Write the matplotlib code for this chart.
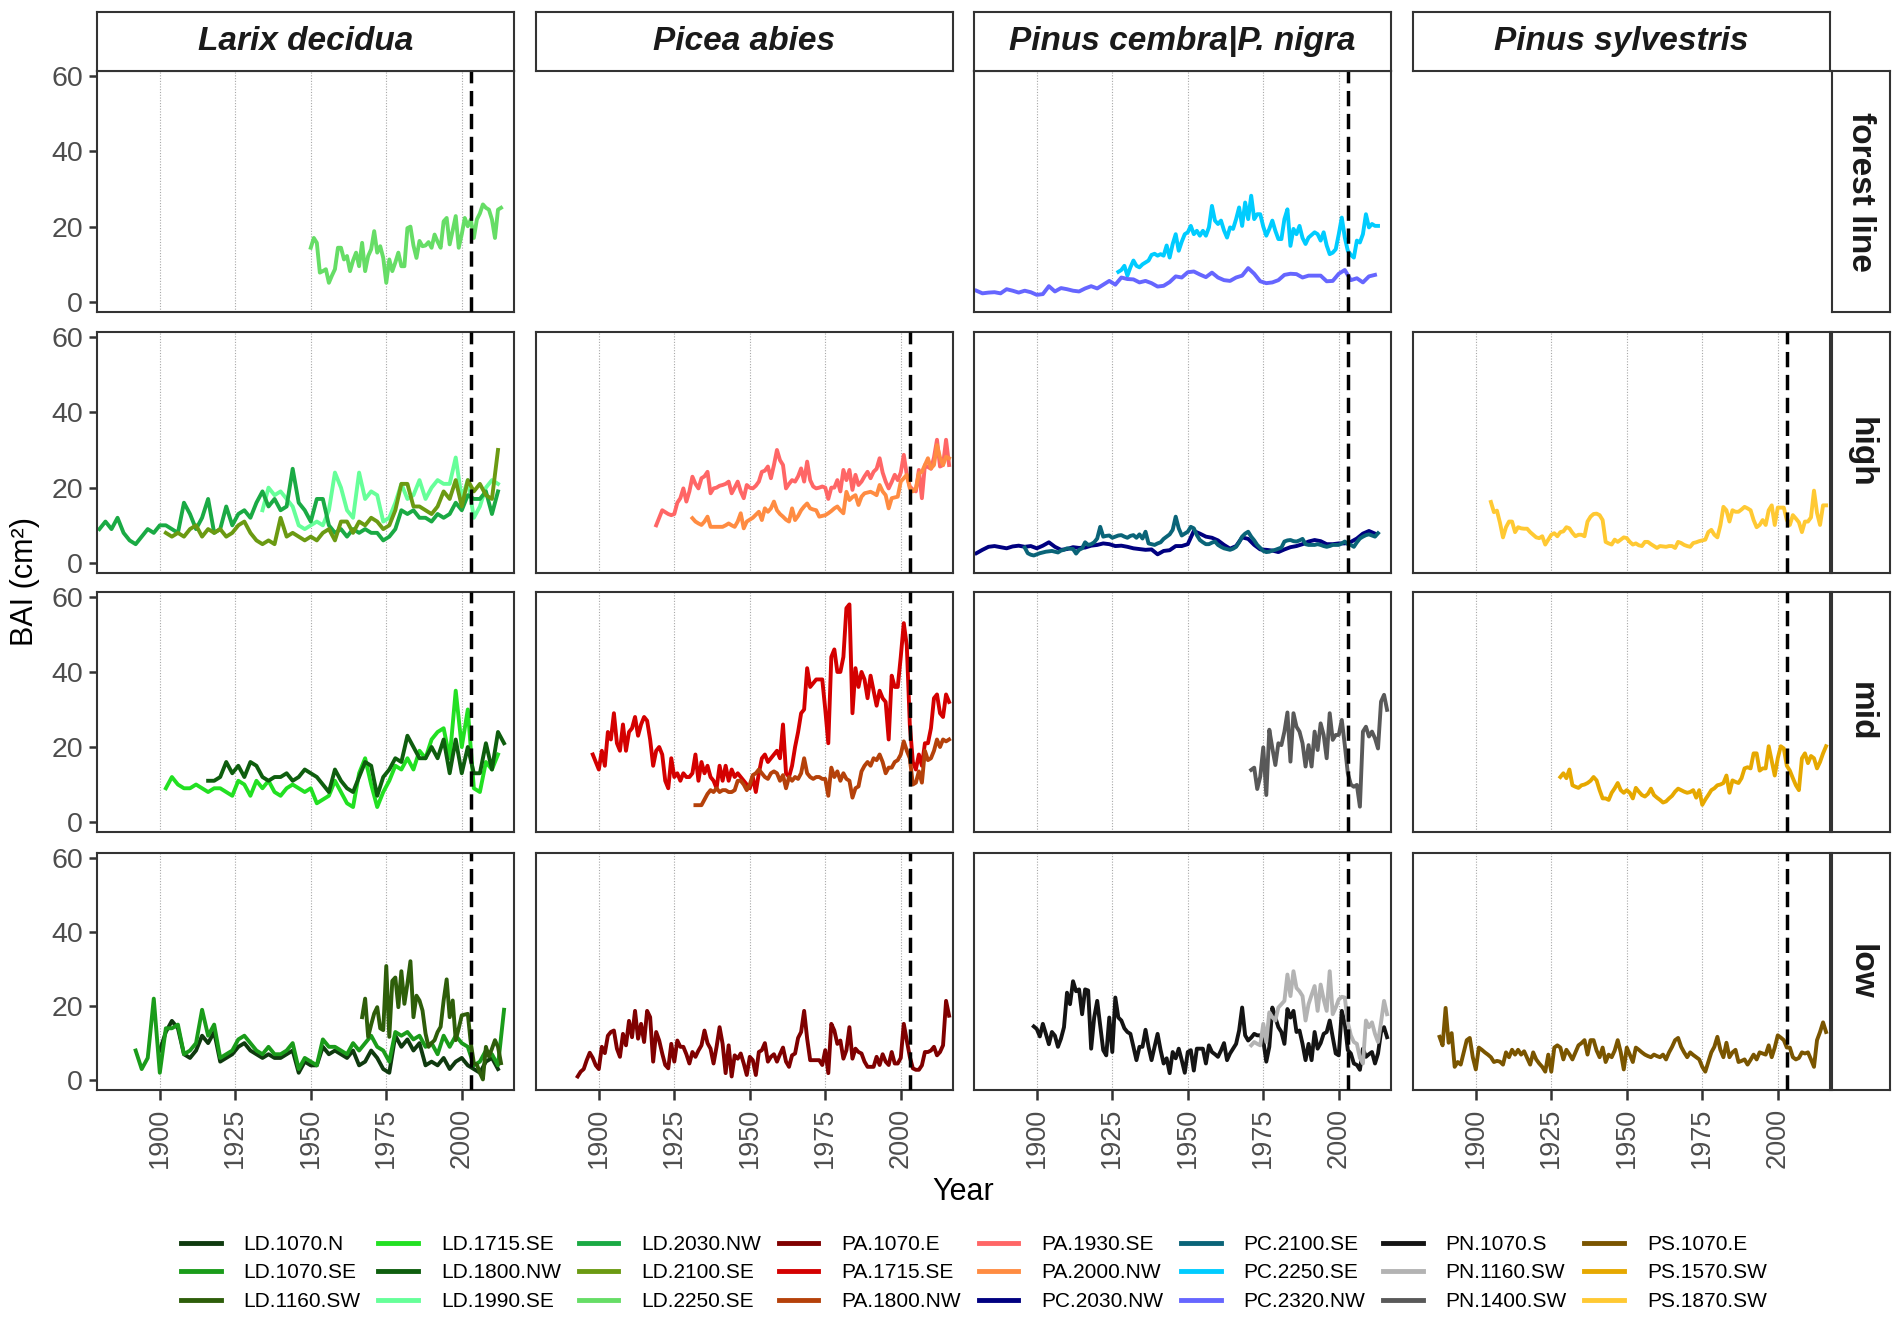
import numpy as np
import matplotlib.pyplot as plt
from matplotlib.lines import Line2D

plt.rcParams['font.family'] = ['Liberation Sans', 'DejaVu Sans']

species = ['Larix decidua', 'Picea abies', 'Pinus cembra|P. nigra', 'Pinus sylvestris']
zones = ['forest line', 'high', 'mid', 'low']
year_ticks = [1900, 1925, 1950, 1975, 2000]
bai_ticks = [0, 20, 40, 60]
event_year = 2003

# BAI (cm2); each list starts at first_year and goes by step years
ld_1070_n = [8, 13, 16, 14, 7, 6, 8, 12, 10, 13, 5, 6, 7, 9, 10, 8, 7, 6, 7, 6,
             6, 7, 8, 2, 5, 4, 4, 9, 7, 8, 7, 6, 8, 4, 5, 8, 6, 3, 2, 12,
             9, 11, 8, 10, 4, 5, 4, 6, 3, 5, 6, 4, 3, 2, 5, 6, 3]
ld_1070_se = [8, 3, 6, 22, 2, 14, 14, 15, 7, 8, 10, 19, 12, 15, 6, 7, 8, 11, 12, 10,
              8, 7, 9, 7, 7, 8, 10, 3, 6, 5, 4, 11, 9, 9, 8, 7, 10, 8, 10, 12,
              9, 8, 5, 13, 12, 13, 11, 12, 9, 10, 7, 12, 9, 12, 10, 9, 4, 5, 8, 7, 4, 19]
ld_1160_sw = [17, 22, 11.7, 15, 18, 19.7, 14, 13.5, 30.8, 11.7, 26.8, 27.7, 19.7, 29.4, 20.6,
              26, 32.1, 17, 22.8, 21.5, 18.8, 12.6, 9, 10, 10.8, 13, 14.4, 21.5, 27.2, 17,
              21.5, 10.8, 14, 17.5, 17.7, 17.9, 10, 4.6, 4.2, 2, 0.2, 9, 6.4, 8.5, 10.8, 9, 4.6]
ld_1715_se = [9, 12, 10, 9, 9, 10, 9, 8, 9, 9, 8, 7, 11, 10, 7, 11, 9, 11, 8, 7,
              9, 10, 9, 8, 9, 5, 6, 7, 11, 8, 5, 4, 13, 17, 10, 4, 8, 11, 15, 14,
              17, 14, 19, 17, 22, 24, 25, 17, 35, 20, 30, 9, 8, 16, 14, 18]
ld_1800_nw = [11, 11, 12, 16, 13, 15, 12, 16, 15, 12, 11, 12, 12, 13, 11, 12, 14, 13, 12, 10,
              8, 14, 11, 9, 8, 12, 16, 15, 7, 12, 14, 17, 16, 23, 20, 17, 17, 20, 17, 22,
              13, 22, 13, 20, 13, 13, 21, 14, 24, 21]
ld_1990_se = [14, 20, 18, 19, 17, 15, 10, 9, 10, 11, 10, 14, 24, 20, 14, 12, 24, 17, 19, 18,
              11, 12, 16, 21, 17, 18, 22, 17, 20, 22, 21, 21, 28, 17, 22, 12, 15, 20, 22, 21]
ld_2030_nw = [9, 11, 9, 12, 8, 6, 5, 7, 9, 8, 10, 10, 9, 8, 16, 13, 9, 12, 17, 8,
              9, 15, 10, 13, 14, 12, 16, 19, 15, 17, 14, 15, 25, 16, 14, 11, 17, 17, 10, 8,
              9, 7, 9, 8, 9, 8, 8, 6, 7, 9, 14, 13, 14, 12, 12, 11, 13, 12, 13, 16,
              14, 18, 17, 17, 19, 13, 19]
ld_2100_se = [8, 7, 8, 7, 9, 10, 7, 9, 8, 9, 7, 8, 10, 11, 8, 6, 5, 6, 5, 12,
              7, 8, 7, 6, 7, 6, 8, 9, 6, 11, 11, 8, 11, 10, 12, 11, 9, 10, 14, 21,
              21, 15, 15, 14, 13, 15, 19, 17, 22, 15, 22, 19, 21, 18, 17, 30]
ld_2250_se = [14.4, 17, 15.7, 7.8, 8.2, 8.7, 5.1, 7, 8.7, 14.4, 14.4, 11.3, 12.2, 8.2, 11, 13.1,
              9.5, 15.7, 8.2, 12.2, 14, 18.8, 13.1, 14.8, 11.7, 5.1, 11.3, 8.2, 10.5, 13.1,
              9.5, 9.5, 19.6, 20, 15, 11.7, 16.2, 14.8, 15, 15.9, 14.4, 17.9, 16, 14.4, 21.4,
              22.3, 15.3, 19, 22.8, 14.4, 18, 22.3, 20.1, 21.9, 17, 21.9, 23.5, 25.9, 25, 24.5,
              21.9, 17, 24.5, 25]
pa_1070_e = [1, 2.3, 3, 5.4, 7.4, 6, 4, 3, 9, 7.3, 12, 13, 13.4, 8.5, 6.3, 12.5, 9.4, 16, 11.6, 18.7,
             11.2, 15.2, 10.3, 18.7, 17, 5, 13, 10.7, 7.2, 4.1, 3.2, 9.8, 5, 10.7, 9, 9, 7, 4.5, 7.6, 6.3,
             8, 9.4, 13.4, 10, 8.5, 4.5, 9, 14.3, 9.8, 1.9, 9.4, 1, 6.7, 5.8, 7.2, 4.5, 1.4, 6.3, 5.4, 1.4,
             7.6, 8.1, 10, 5, 6.3, 7, 5, 7, 8.8, 5, 3.6, 6.7, 7.2, 11.4, 13, 18.7, 11.2, 5.4, 5.4, 5.4,
             5.4, 4.1, 8.1, 1.9, 15.2, 13.4, 9.8, 10.7, 5.8, 8.1, 14.3, 5.8, 8.5, 7.6, 7.2, 5, 3.6, 3.6,
             3.6, 6.3, 4.1, 7, 5, 4.1, 7.6, 4.5, 4.5, 6, 15.2, 10.7, 6.3, 3.2, 2.8, 2.8, 4, 7.6, 7.6, 8,
             9, 6.7, 7.6, 9.4, 21.4, 17.4]
pa_1715_se = [18, 16, 14, 19, 15, 24, 22, 29, 21, 19, 26, 19, 24, 25, 28, 23, 26, 28, 27, 22,
              15, 19, 20, 18, 11, 9, 17, 12, 13, 11, 13, 12, 12, 13, 18, 11, 16, 13, 15, 12,
              11, 9, 15, 11, 15, 11, 14, 12, 13, 12, 11, 10, 9, 12, 8, 13, 17, 18, 16, 17,
              18, 19, 17, 26, 13, 12, 15, 20, 24, 29, 30, 41, 36, 37, 38, 38, 38, 30, 21, 44,
              46, 40, 40, 44, 57, 58, 29, 41, 36, 40, 38, 33, 39, 35, 31, 35, 33, 32, 22, 39,
              36, 36, 44, 53, 47, 26, 16, 14, 18, 15, 21, 21, 25, 33, 34, 29, 28, 34, 32]
pa_1800_nw = [4.5, 4.5, 4.5, 6, 7.5, 8.5, 8, 9, 8, 8.5, 8.5, 8, 8, 8.5, 11, 11, 10, 8.5, 10, 12.5,
              13, 14, 13, 12, 11.5, 13, 13.5, 13, 11, 12.5, 9, 12, 11, 12, 11.5, 13, 17, 13, 12, 11.5,
              12, 12, 11.5, 11.5, 7, 14.5, 12, 13.5, 11, 13, 11.5, 11, 6.5, 9, 9.5, 13.5, 15, 16, 15, 17,
              16.5, 18, 16, 13, 14.5, 14.5, 16, 16.5, 18, 21.5, 19, 17, 10, 10.5, 13.5, 10.5, 19, 16.5, 17,
              19, 22, 20, 22, 21.5, 22]
pa_1930_se = [10, 12, 14, 13.5, 13, 12.7, 13, 16, 17.2, 19.8, 16.3, 19, 22.9, 21, 19.8, 22.5, 23, 24.2,
              18.5, 19.8, 20, 20.5, 20.7, 21, 21.6, 18.5, 20, 21.6, 19, 17.2, 20.7, 20, 19.8, 20.5, 21.6,
              24.2, 24.5, 25.6, 22.5, 26, 30, 27.3, 26, 19.8, 21, 22, 21.6, 23, 25.1, 21.6, 26.9, 22, 20.3,
              19.8, 20, 20.3, 20, 17, 20, 20, 22, 19, 24.7, 22, 24.7, 19.4, 23.4, 20.7, 21.6, 23, 24.2,
              22.5, 24.2, 25, 27.8, 24, 21.6, 19.8, 21.5, 23.4, 22, 24, 28.7, 23.4, 20.3, 19.5, 19, 24.7,
              17.2, 26, 25.5, 25, 28, 32.7, 25.6, 26, 32.7, 26]
pa_2000_nw = [11.9, 11, 10.5, 10.1, 11, 12.3, 9.6, 9.6, 9.6, 9.6, 9.6, 10, 10.5, 10, 9.6, 11, 13.2, 9.2,
              11, 11.5, 12, 12.8, 13.6, 11.4, 14.5, 13.6, 14.5, 16.3, 14, 13, 12.3, 11.5, 11, 14.5, 11.4,
              12.5, 14, 15, 15.8, 14.5, 14.2, 14, 12.3, 12.5, 12.7, 13.2, 13.8, 14.5, 15, 14, 13.2, 18.9,
              16.7, 17.5, 18, 15.4, 17.6, 18.5, 18.7, 18.9, 18.5, 18, 20.7, 19, 18, 14.5, 17.2, 17.4, 17.6,
              21.6, 22.5, 23.4, 19.8, 19, 19.8, 23.8, 24.2, 26, 27.8, 25.1, 26, 31.3, 28, 26, 28.2, 27.8]
pc_2030_nw = [2.6, 3.5, 4.3, 4.5, 4.2, 3.9, 4.4, 4.6, 4.3, 4.5, 3.9, 4.6, 5.5, 4.3, 3.5, 3.7, 4.2, 4,
              4.1, 4.6, 4.8, 5.2, 5, 4.5, 4.6, 4.3, 3.9, 3.7, 3.5, 3.6, 2.3, 3.2, 3.4, 4.5, 4.5, 5, 8.5,
              7.8, 7, 6.7, 6, 4.8, 3.8, 4.5, 6.8, 6.4, 4.8, 3.6, 3.5, 3.3, 2.9, 3.6, 4.2, 4.5, 5, 5.7,
              6.1, 5.8, 5, 5, 5.2, 5.2, 5.6, 6.5, 7.8, 8.5, 7.8]
pc_2100_se = [4.1, 2.6, 2.2, 2, 2.3, 2.6, 2.8, 3, 3.1, 3.2, 3, 2.8, 3.3, 3.5, 3.9, 3.8, 3.7, 2.5, 3.5,
              3.9, 5.5, 4.8, 5, 5.5, 6.5, 9.6, 7, 7.2, 7.3, 6.7, 7, 7.3, 7.4, 7, 6.7, 7.2, 7.4, 6.7, 7.6,
              6.5, 8.3, 5.2, 5, 4.8, 5.2, 5.5, 6.4, 7, 7.6, 8.8, 12.3, 9.2, 7.3, 7.8, 8.3, 9.6, 9.2, 7.4,
              6.1, 5.5, 5, 5, 5.4, 5.7, 4.8, 4.3, 3.9, 3.7, 3.5, 3.8, 4.3, 5.5, 7, 7.8, 8.3, 7, 6, 4.8, 4,
              3.2, 2.9, 3, 3.3, 3.5, 3.8, 4.1, 5.7, 6, 6.1, 5.8, 5.7, 6, 6.4, 5, 4.8, 4.8, 4.8, 5, 4.8,
              4.5, 4.3, 4.5, 4.8, 4.8, 4.8, 5.2, 5.7, 5, 4.8, 4.3, 5.5, 6.5, 7, 7.4, 7.6, 7.3, 7, 7.9]
pc_2250_se = [8, 8.5, 9.6, 7, 9.2, 11, 9.6, 9.2, 10, 10.5, 11, 12.5, 12.8, 12.3, 12.7, 12.3, 15, 11.8,
              15.4, 18, 13.6, 16, 18, 18.5, 20.2, 18, 18.9, 17.6, 18.9, 17.6, 19.8, 25.5, 21.6, 20.7, 21.6,
              19, 17.1, 19.8, 19.4, 22, 25.1, 20.2, 26.4, 22, 28.2, 22, 23.3, 23.3, 20, 17.6, 19.4, 21.6,
              18.9, 16.7, 16.7, 22, 24.6, 14.9, 19.4, 18, 20.2, 17, 15.4, 17.1, 17.8, 18.5, 18, 16.3, 18.5,
              15, 12.7, 13.1, 14, 18, 22.4, 17.1, 13.6, 12.5, 11.8, 16.3, 15.8, 18, 23.3, 19.8, 20.7, 20.2,
              20.2]
pc_2320_nw = [3, 2.3, 2.5, 2.6, 2.3, 3.4, 3, 2.5, 3, 2.6, 1.9, 2.1, 4.2, 2.8, 3.7, 3.4, 3, 2.8, 3.6,
              4.2, 3.6, 4.6, 5.6, 4.6, 6.5, 6.1, 6, 5.2, 5.6, 5, 4.1, 4.3, 5.3, 6.8, 6.5, 7.9, 8.1, 7.3,
              6.6, 7.8, 6.5, 5.8, 5.6, 6.5, 7, 9, 7.5, 5.5, 5, 5.2, 5.8, 7.2, 7.5, 7.4, 6.5, 7, 7, 7, 5.5,
              5.6, 7.5, 8.5, 5.8, 6.3, 5.2, 6.8, 7.2]
pn_1070_s = [14.5, 13.8, 11.8, 15.2, 12.5, 9.7, 13, 12, 9, 11.2, 14.3, 23.6, 20.5, 26.7, 24, 24.5, 17.8,
             24.5, 24.2, 8.5, 16.9, 21.4, 14.7, 8.1, 6.7, 16.9, 7.6, 22.3, 16.9, 16.1, 14, 13, 12.5, 9, 5.4,
             9, 9, 13.6, 9, 5.4, 9, 12.5, 8.1, 4.5, 5.9, 1.9, 7.6, 5.9, 8.5, 5.4, 2, 7.6, 8.1, 2.6, 8.5,
             8.5, 8.5, 4.5, 9.4, 7.6, 7, 6.3, 8, 10, 5.4, 7.2, 8.5, 9.8, 13.4, 19.6, 12.1, 10.7, 11.5, 12.5,
             12.1, 12.1, 10.7, 5, 9, 19.6, 16.9, 14.3, 13, 9.8, 19.2, 16.9, 18.7, 13, 13.4, 9.8, 5.4, 9.8,
             5.4, 13, 8.5, 10, 12.5, 13, 16.1, 11.6, 7.2, 6.7, 18.7, 15.2, 8.1, 7.2, 4.5, 4.1, 2.8, 8.5,
             6.3, 7, 7.6, 4.5, 7.2, 13, 14.3, 11.6]
pn_1160_sw = [9.4, 10.3, 9.8, 9.4, 15.2, 10.3, 18.3, 17, 16.1, 19.6, 20.5, 21.4, 28.5, 22.7, 29.4, 24.9,
              24, 22.7, 16.1, 20.5, 23, 25.4, 18.7, 25.8, 21.8, 18.7, 29.4, 17.8, 19.6, 21.8, 22.5, 22.3,
              15.6, 12.1, 10.3, 9.8, 6, 4.5, 16.1, 14.3, 15.6, 12.5, 10.3, 15.6, 21.4, 17.8]
pn_1400_sw = [13.9, 14.5, 8.8, 12.1, 19.9, 7.2, 24.6, 19.7, 15.2, 21, 20.5, 24.1, 29.2, 16.1, 29, 25.4,
              24.1, 21, 14.8, 20.5, 14.8, 24.1, 19.2, 26.3, 23.2, 17, 29, 21.9, 23.2, 23.2, 27.2, 20.5, 13,
              10, 9.4, 9.9, 4.1, 24.1, 25.4, 22.8, 24.1, 22.3, 19.6, 32.1, 33.9, 29.9]
ps_1070_e = [11.7, 9.4, 19.5, 10.1, 12.7, 3.6, 4.9, 4.2, 7.5, 10.8, 11.4, 6.2, 2.9, 8.8, 8.2, 7.5, 6.9,
             6.2, 4.9, 5.2, 5, 4.2, 7.5, 6.2, 8.2, 6.9, 8.2, 6.9, 7.8, 6, 4.2, 7.5, 5.6, 4.5, 3.6, 2.3,
             6.9, 2.3, 8.8, 9.4, 8.8, 5.6, 8.2, 7, 5.6, 7.5, 9.4, 10, 10.8, 6.9, 10.8, 10.8, 8, 6.2, 8.8,
             4.9, 6.9, 6.2, 8, 10.8, 7.5, 2.9, 8.8, 6.9, 4.9, 8.8, 8.2, 7.5, 6.9, 6.5, 6.2, 6.9, 6.5, 6.2,
             6.9, 5.6, 7.5, 9, 10.8, 11.4, 9, 7.5, 6.2, 7.5, 6.8, 6.2, 5.6, 3.6, 2.3, 4.9, 7.5, 9, 11.7,
             8.2, 6.2, 10.1, 6.2, 7.5, 8.2, 4.9, 5.2, 5.6, 4.2, 5.5, 6.9, 5.6, 7.5, 7.2, 6.9, 9.4, 6.2,
             8.8, 12.1, 11.5, 10.8, 8.8, 8.8, 6.2, 5.6, 6, 7.5, 7.2, 7.5, 5.6, 3.6, 10.8, 13, 15.6, 13]
ps_1570_sw = [12, 13, 11.7, 14, 9.8, 9.4, 9.1, 9.8, 10, 10.4, 11, 12, 11.1, 8.5, 6.3, 6.3, 5.9, 7.8, 9,
              10.4, 8.5, 7.8, 8.5, 7.8, 6.3, 9.1, 8.1, 7.2, 6.8, 7.5, 8.9, 7.2, 6.5, 5.9, 5.2, 5.5, 6.3,
              7, 8.1, 8.9, 8.5, 8.1, 7.8, 8, 8.5, 6.5, 8.5, 4.6, 6, 7.2, 8.5, 9, 9.8, 10, 10.4, 12.4, 7.8,
              11.1, 10.7, 10.4, 11.7, 14.3, 14.6, 14.3, 18.3, 18.3, 13.7, 14.3, 14.3, 20.2, 16.3, 12.4, 17,
              20.2, 19.6, 15, 13.7, 11.7, 9.8, 8.5, 17, 18.3, 15.7, 17.6, 17, 14.3, 16, 18.3, 20.2]
ps_1870_sw = [16.2, 13.5, 13.9, 10.7, 6.8, 9.5, 11, 11, 8.2, 9.5, 9.2, 9.1, 9.1, 8.2, 7.5, 6.8, 6.6, 7.1,
              4.9, 6.2, 7.5, 7.9, 7.1, 8.2, 8.4, 9.5, 9.2, 8, 7.1, 7.5, 7.5, 7.1, 11, 12.3, 13, 13.1, 12.7,
              11.4, 5.6, 5.2, 4.9, 6.2, 5.6, 6.2, 6.8, 6.6, 5.6, 4.9, 5.2, 4.7, 4.5, 5.6, 5.6, 5, 4.5, 4,
              4.5, 4.4, 4.3, 4.5, 4.5, 4, 5.6, 5.3, 4.8, 4.5, 4.3, 5.3, 5.5, 5.8, 6, 6.2, 8.2, 8.8, 7.5,
              6.8, 10, 14.9, 14, 11, 14, 13.6, 13.6, 14.2, 14.9, 14.5, 14, 11.4, 9.5, 10.1, 11.4, 10.1, 14,
              15.3, 10.1, 14.7, 14.7, 14.7, 11.4, 10.1, 12.7, 11.8, 10.8, 8.2, 11, 11, 12.1, 19.2, 13.3,
              10.1, 15.3, 15.3]

bai = {
    'LD.1070.N': ld_1070_n, 'LD.1070.SE': ld_1070_se, 'LD.1160.SW': ld_1160_sw,
    'LD.1715.SE': ld_1715_se, 'LD.1800.NW': ld_1800_nw, 'LD.1990.SE': ld_1990_se,
    'LD.2030.NW': ld_2030_nw, 'LD.2100.SE': ld_2100_se, 'LD.2250.SE': ld_2250_se,
    'PA.1070.E': pa_1070_e, 'PA.1715.SE': pa_1715_se, 'PA.1800.NW': pa_1800_nw,
    'PA.1930.SE': pa_1930_se, 'PA.2000.NW': pa_2000_nw, 'PC.2030.NW': pc_2030_nw,
    'PC.2100.SE': pc_2100_se, 'PC.2250.SE': pc_2250_se, 'PC.2320.NW': pc_2320_nw,
    'PN.1070.S': pn_1070_s, 'PN.1160.SW': pn_1160_sw, 'PN.1400.SW': pn_1400_sw,
    'PS.1070.E': ps_1070_e, 'PS.1570.SW': ps_1570_sw, 'PS.1870.SW': ps_1870_sw,
}
first_year = {
    'LD.1070.N': 1900, 'LD.1070.SE': 1892, 'LD.1160.SW': 1967, 'LD.1715.SE': 1902,
    'LD.1800.NW': 1916, 'LD.1990.SE': 1934, 'LD.2030.NW': 1880, 'LD.2100.SE': 1902,
    'LD.2250.SE': 1950, 'PA.1070.E': 1893, 'PA.1715.SE': 1898, 'PA.1800.NW': 1932,
    'PA.1930.SE': 1919, 'PA.2000.NW': 1931, 'PC.2030.NW': 1880, 'PC.2100.SE': 1896,
    'PC.2250.SE': 1927, 'PC.2320.NW': 1880, 'PN.1070.S': 1899, 'PN.1160.SW': 1971,
    'PN.1400.SW': 1971, 'PS.1070.E': 1888, 'PS.1570.SW': 1928, 'PS.1870.SW': 1905,
}
step = {'LD.1070.N': 2, 'LD.1070.SE': 2, 'LD.1715.SE': 2, 'LD.1800.NW': 2,
        'LD.1990.SE': 2, 'LD.2030.NW': 2, 'LD.2100.SE': 2, 'PC.2030.NW': 2, 'PC.2320.NW': 2}
panel_of = {
    'LD.1070.N': ('low', 0), 'LD.1070.SE': ('low', 0), 'LD.1160.SW': ('low', 0),
    'LD.1715.SE': ('mid', 0), 'LD.1800.NW': ('mid', 0), 'LD.1990.SE': ('high', 0),
    'LD.2030.NW': ('high', 0), 'LD.2100.SE': ('high', 0), 'LD.2250.SE': ('forest line', 0),
    'PA.1070.E': ('low', 1), 'PA.1715.SE': ('mid', 1), 'PA.1800.NW': ('mid', 1),
    'PA.1930.SE': ('high', 1), 'PA.2000.NW': ('high', 1), 'PC.2030.NW': ('high', 2),
    'PC.2100.SE': ('high', 2), 'PC.2250.SE': ('forest line', 2), 'PC.2320.NW': ('forest line', 2),
    'PN.1070.S': ('low', 2), 'PN.1160.SW': ('low', 2), 'PN.1400.SW': ('mid', 2),
    'PS.1070.E': ('low', 3), 'PS.1570.SW': ('mid', 3), 'PS.1870.SW': ('high', 3),
}
colors = {
    'LD.1070.N': '#0f3a0f', 'LD.1070.SE': '#1a9c1a', 'LD.1160.SW': '#2e5e0a',
    'LD.1715.SE': '#22e022', 'LD.1800.NW': '#0e5e0e', 'LD.1990.SE': '#66ff99',
    'LD.2030.NW': '#1aaa44', 'LD.2100.SE': '#6b9a12', 'LD.2250.SE': '#66dd66',
    'PA.1070.E': '#800000', 'PA.1715.SE': '#d40000', 'PA.1800.NW': '#b5410a',
    'PA.1930.SE': '#ff6666', 'PA.2000.NW': '#ff8c42', 'PC.2030.NW': '#000080',
    'PC.2100.SE': '#0a6478', 'PC.2250.SE': '#00ccff', 'PC.2320.NW': '#6666ff',
    'PN.1070.S': '#141414', 'PN.1160.SW': '#b3b3b3', 'PN.1400.SW': '#595959',
    'PS.1070.E': '#7a5500', 'PS.1570.SW': '#e6a800', 'PS.1870.SW': '#ffc933',
}

W, H = 1902, 1317
col_x = [97, 536, 974, 1413]
col_w = 417
row_y = [71, 332, 592, 853]
row_h = [241, 241, 240, 237]
edge = '#333333'


def frac(x0, y0, w, h):
    return [x0 / W, 1 - (y0 + h) / H, w / W, h / H]


fig = plt.figure(figsize=(W / 100, H / 100), dpi=100)

for r, zone in enumerate(zones):
    for c, sp in enumerate(species):
        names = [n for n in bai if panel_of[n] == (zone, c)]
        if not names:
            continue
        ax = fig.add_axes(frac(col_x[c], row_y[r], col_w, row_h[r]))
        for n in sorted(names):
            v = np.array(bai[n], dtype=float)
            yrs = first_year[n] + step.get(n, 1) * np.arange(len(v))
            ax.plot(yrs, v, color=colors[n], lw=2.8, solid_joinstyle='round', zorder=2)
        ax.axvline(event_year, color='black', lw=2.5, dashes=(4.4, 2.2), zorder=3)
        ax.set_xlim(1879.2, 2017.3)
        ax.set_ylim(-2.65, 61.3)
        ax.set_xticks(year_ticks)
        ax.set_yticks(bai_ticks)
        ax.grid(axis='x', color='#a8a8a8', lw=0.8, linestyle=(0, (1, 1.5)), zorder=1)
        for s in ax.spines.values():
            s.set_color(edge)
            s.set_linewidth(1.5)
        ax.tick_params(axis='x', length=7, width=1.8, color=edge, pad=6,
                       labelsize=19.5, labelcolor='#4d4d4d', labelrotation=90)
        ax.tick_params(axis='y', length=6, width=1.8, color=edge, pad=4,
                       labelsize=20.5, labelcolor='#4d4d4d')
        if r != len(zones) - 1:
            ax.tick_params(axis='x', length=0, labelbottom=False)
        if c != 0:
            ax.tick_params(axis='y', length=0, labelleft=False)

# column strips
for c, sp in enumerate(species):
    sa = fig.add_axes(frac(col_x[c], 12, col_w, 59))
    sa.set_xticks([])
    sa.set_yticks([])
    for s in sa.spines.values():
        s.set_color(edge)
        s.set_linewidth(1.5)
    sa.text(0.5, 0.5, sp, transform=sa.transAxes, ha='center', va='center',
            fontsize=24, fontweight='bold', fontstyle='italic', color='#1a1a1a')

# row strips
for r, zone in enumerate(zones):
    sa = fig.add_axes(frac(1832, row_y[r], 58, row_h[r]))
    sa.set_xticks([])
    sa.set_yticks([])
    for s in sa.spines.values():
        s.set_color(edge)
        s.set_linewidth(1.5)
    sa.text(0.5, 0.5, zone, transform=sa.transAxes, ha='center', va='center',
            rotation=270, fontsize=24, fontweight='bold', color='#1a1a1a')

fig.text(25 / W, 1 - 581 / H, 'BAI (cm²)', rotation=90, ha='center', va='center', fontsize=22)
fig.text(963 / W, 1 - 1192 / H, 'Year', ha='center', va='center', fontsize=22)

handles = [Line2D([], [], color=colors[n], lw=3.5) for n in bai]
fig.legend(handles, list(bai), ncol=8, loc='center', bbox_to_anchor=(974 / W, 1 - 1273 / H),
           frameon=False, fontsize=15, handlelength=1.9, handletextpad=1.1,
           columnspacing=0.85, labelspacing=0.45)

fig.savefig('out.png', dpi=100)
